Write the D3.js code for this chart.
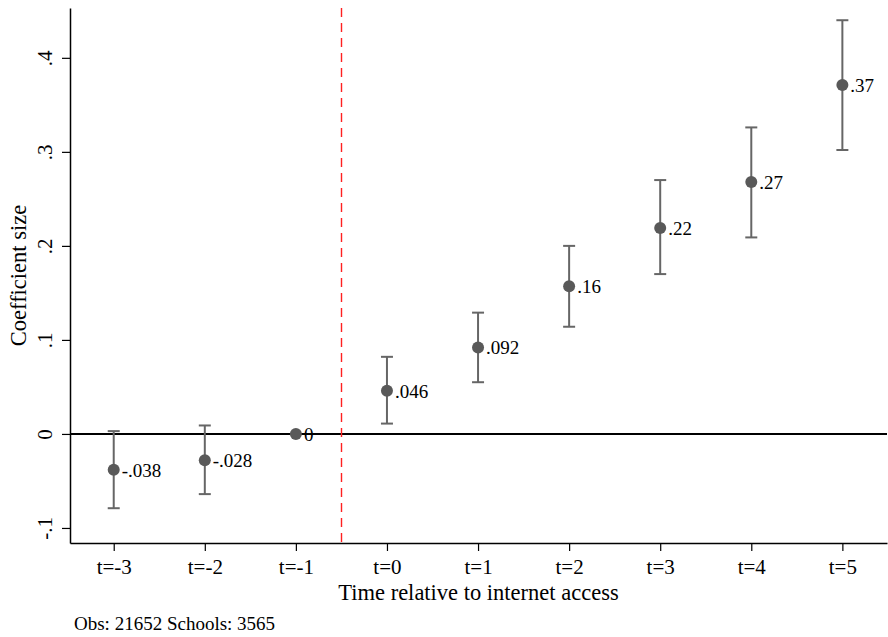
<!DOCTYPE html>
<html>
<head>
<meta charset="utf-8">
<script src="https://cdn.jsdelivr.net/npm/d3@7"></script>
</head>
<body style="margin:0; background:#fff">
<div id="chart"></div>
<script>
const periods = [-3, -2, -1, 0, 1, 2, 3, 4, 5];
const periodLabels = ["t=-3", "t=-2", "t=-1", "t=0", "t=1", "t=2", "t=3", "t=4", "t=5"];
const coefs = [-0.038, -0.028, 0, 0.046, 0.092, 0.157, 0.219, 0.268, 0.371];
const coefLabels = ["-.038", "-.028", "0", ".046", ".092", ".16", ".22", ".27", ".37"];
const ciLow = [-0.079, -0.064, null, 0.011, 0.055, 0.114, 0.17, 0.209, 0.302];
const ciHigh = [0.003, 0.009, null, 0.082, 0.129, 0.2, 0.27, 0.326, 0.44];
const yTicks = [-0.1, 0, 0.1, 0.2, 0.3, 0.4];
const yTickLabels = ["-.1", "0", ".1", ".2", ".3", ".4"];

const FONT = "Liberation Serif";
const width = 888;
const height = 637;
const margin = { top: 8, right: 1, bottom: 94, left: 70 };

const svg = d3.select("#chart")
  .append("svg")
  .attr("width", width)
  .attr("height", height)
  .attr("font-family", FONT);

const x = d3.scaleLinear()
  .domain([-3.48, 5.49])
  .range([margin.left, width - margin.right]);

const y = d3.scaleLinear()
  .domain([-0.116, 0.453])
  .range([height - margin.bottom, margin.top]);

const data = periods.map((p, i) => ({
  t: p, label: periodLabels[i], coef: coefs[i], text: coefLabels[i],
  lo: ciLow[i], hi: ciHigh[i]
}));

// axes
const xAxis = d3.axisBottom(x)
  .tickValues(periods)
  .tickFormat((d, i) => periodLabels[i])
  .tickSize(8)
  .tickSizeOuter(0)
  .tickPadding(8);

const yAxis = d3.axisLeft(y)
  .tickValues(yTicks)
  .tickFormat((d, i) => yTickLabels[i])
  .tickSize(8)
  .tickSizeOuter(0);

const gx = svg.append("g")
  .attr("transform", `translate(0,${height - margin.bottom})`)
  .call(xAxis)
  .attr("font-family", FONT);
gx.select(".domain").attr("stroke", "#000").attr("stroke-width", 1.5);
gx.selectAll(".tick line").attr("stroke", "#000").attr("stroke-width", 1.2);
gx.selectAll(".tick text")
  .attr("font-family", FONT)
  .attr("font-size", 21)
  .attr("fill", "#000");

const gy = svg.append("g")
  .attr("transform", `translate(${margin.left},0)`)
  .call(yAxis)
  .attr("font-family", FONT);
gy.select(".domain").attr("stroke", "#000").attr("stroke-width", 1.5);
gy.selectAll(".tick line").attr("stroke", "#000").attr("stroke-width", 1.2);
gy.selectAll(".tick text")
  .attr("font-family", FONT)
  .attr("font-size", 21)
  .attr("fill", "#000")
  .attr("x", null)
  .attr("dy", null)
  .attr("text-anchor", "middle")
  .attr("transform", "translate(-18,0) rotate(-90)");

// zero line
svg.append("line")
  .attr("x1", x.range()[0])
  .attr("x2", x.range()[1])
  .attr("y1", y(0))
  .attr("y2", y(0))
  .attr("stroke", "#000")
  .attr("stroke-width", 2);

// event line
svg.append("line")
  .attr("x1", Math.round(x(-0.5)) + 0.5)
  .attr("x2", Math.round(x(-0.5)) + 0.5)
  .attr("y1", y.range()[1])
  .attr("y2", y.range()[0])
  .attr("stroke", "#ff2020")
  .attr("stroke-width", 1.4)
  .attr("stroke-dasharray", "9,6");

// error bars
const bars = data.filter((d) => d.lo !== null);
const g = svg.append("g");
g.selectAll(".ci")
  .data(bars)
  .join("line")
  .attr("x1", (d) => x(d.t))
  .attr("x2", (d) => x(d.t))
  .attr("y1", (d) => y(d.lo))
  .attr("y2", (d) => y(d.hi))
  .attr("stroke", "#666")
  .attr("stroke-width", 2);

["lo", "hi"].forEach((k) => {
  g.selectAll(".cap-" + k)
    .data(bars)
    .join("line")
    .attr("x1", (d) => x(d.t) - 6)
    .attr("x2", (d) => x(d.t) + 6)
    .attr("y1", (d) => y(d[k]))
    .attr("y2", (d) => y(d[k]))
    .attr("stroke", "#666")
    .attr("stroke-width", 2);
});

g.selectAll("circle")
  .data(data)
  .join("circle")
  .attr("cx", (d) => x(d.t))
  .attr("cy", (d) => y(d.coef))
  .attr("r", 6)
  .attr("fill", "#595959");

g.selectAll(".val")
  .data(data)
  .join("text")
  .attr("x", (d) => x(d.t) + 8)
  .attr("y", (d) => y(d.coef) + 7)
  .attr("font-family", FONT)
  .attr("font-size", 19)
  .attr("fill", "#000")
  .text((d) => d.text);

// titles
svg.append("text")
  .attr("x", (x.range()[0] + x.range()[1]) / 2)
  .attr("y", 600)
  .attr("text-anchor", "middle")
  .attr("font-family", FONT)
  .attr("font-size", 22.5)
  .text("Time relative to internet access");

svg.append("text")
  .attr("transform", `translate(26,${(y.range()[0] + y.range()[1]) / 2}) rotate(-90)`)
  .attr("text-anchor", "middle")
  .attr("font-family", FONT)
  .attr("font-size", 22.5)
  .text("Coefficient size");

svg.append("text")
  .attr("x", 74)
  .attr("y", 630)
  .attr("font-family", FONT)
  .attr("font-size", 19)
  .text("Obs: 21652 Schools: 3565");
</script>
</body>
</html>
